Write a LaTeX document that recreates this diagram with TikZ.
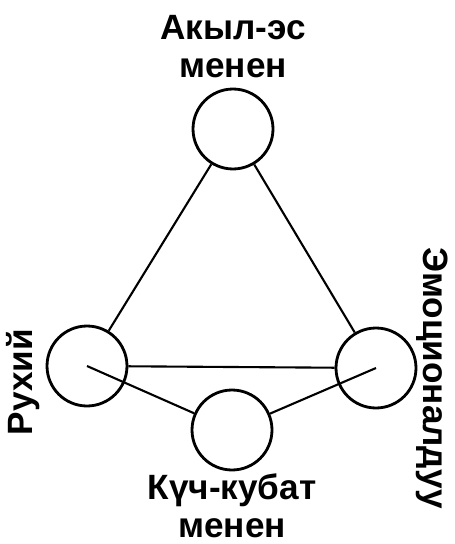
\documentclass[tikz,border=0pt]{standalone}
\usepackage{fontspec}
\setmainfont{Liberation Sans}

\tikzset{
  pole/.style={circle, draw=black, line width=1.6pt, minimum size=1.6cm, inner sep=0},
  link/.style={black, line width=1.2pt},
  lbl/.style={font=\fontsize{20pt}{21.6pt}\selectfont\bfseries, align=center, inner sep=0},
}

\begin{document}
\begin{tikzpicture}[x=0.02cm, y=-0.02cm]
    % canvas 455 x 544 (one unit = one pixel of the sketch)
    \useasboundingbox (0,0) rectangle (455,544);

    % === the four circles ===
    \node[pole] (akyl)  at (233,129) {};
    \node[pole] (rukh)  at (87,366)  {};
    \node[pole] (emots) at (376,368) {};
    \node[pole] (kuch)  at (232,430) {};

    % === labels ===
    \node[lbl] (akyllbl) at (233,47) {Акыл-эс\\менен};
    \node[lbl] (kuchlbl) at (232,506) {Күч-кубат\\менен};
    \node[lbl, rotate=90]  (rukhlbl)  at (23,382)  {Рухий};
    \node[lbl, rotate=-90] (emotslbl) at (432,378) {Эмоционалдуу};

    % === connections ===
    \draw[link] (akyl) -- (rukh);
    \draw[link] (akyl) -- (emots);
    \draw[link] (rukh) -- (emots);
    % these two start inside the side circles
    \draw[link] (rukh.center) -- (kuch);
    \draw[link] (emots.center) -- (kuch);
\end{tikzpicture}
\end{document}
